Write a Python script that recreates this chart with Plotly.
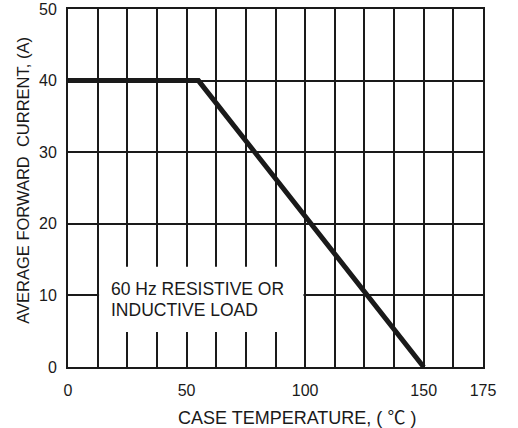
import plotly.graph_objects as go

# Data
temp_c = [0, 55, 150]
current_a = [40, 40, 0]
x_tick_vals = [0, 50, 100, 150, 175]
x_tick_text = ["0", "50", "100", "150", "175"]
y_tick_vals = [0, 10, 20, 30, 40, 50]
note_lines = ["60 Hz RESISTIVE OR", "INDUCTIVE LOAD"]
note_y = [10.95, 8.0]
x_title = "CASE TEMPERATURE, ( <span style='font-family:Noto Sans CJK JP'>℃</span> )"
y_title = "AVERAGE FORWARD  CURRENT, (A)"

FONT = "Arial, Liberation Sans, sans-serif"
TXT = "#1a1a1a"

fig = go.Figure()
fig.add_trace(go.Scatter(x=temp_c, y=current_a, mode="lines",
                         line=dict(color="#1a1a1a", width=5),
                         showlegend=False, hoverinfo="skip"))

# White box behind the note (covers grid lines)
fig.add_shape(type="rect", xref="x", yref="y", x0=13.1, x1=99.3, y0=4.9, y1=14.0,
              fillcolor="white", line=dict(width=0), layer="above")
for line_text, yy in zip(note_lines, note_y):
    fig.add_annotation(x=17.6, y=yy, xref="x", yref="y", xanchor="left", yanchor="middle",
                       text=line_text, showarrow=False, align="left", borderpad=0,
                       font=dict(family=FONT, size=17.5, color=TXT))

# Axis titles (placed as in the reference)
fig.add_annotation(x=0.552, y=-0.137, xref="paper", yref="paper", xanchor="center", yanchor="middle",
                   text=x_title, showarrow=False, font=dict(family=FONT, size=18, color=TXT))
fig.add_annotation(x=-0.107, y=0.522, xref="paper", yref="paper", xanchor="center", yanchor="middle",
                   text=y_title, showarrow=False, textangle=-90, font=dict(family=FONT, size=16.5, color=TXT))

fig.update_xaxes(range=[0, 175], tickmode="array", tickvals=x_tick_vals, ticktext=x_tick_text,
                 showgrid=False, zeroline=False, showline=True, linecolor="#1a1a1a", linewidth=2,
                 mirror=True, ticks="", ticklabelstandoff=8, automargin=False,
                 minor=dict(dtick=12.5, tick0=0, showgrid=True, gridcolor="#1a1a1a", gridwidth=2, ticks=""),
                 tickfont=dict(family=FONT, size=16, color=TXT))
fig.update_yaxes(range=[0, 50], tickmode="array", tickvals=y_tick_vals,
                 showgrid=True, gridcolor="#1a1a1a", gridwidth=2, zeroline=False,
                 showline=True, linecolor="#1a1a1a", linewidth=2, mirror=True, ticks="",
                 ticklabelstandoff=6, automargin=False,
                 tickfont=dict(family=FONT, size=16, color=TXT))

fig.update_layout(width=518, height=428, margin=dict(l=68, r=35, t=9, b=61),
                  plot_bgcolor="white", paper_bgcolor="white")

fig.write_html("out.html", config={"displayModeBar": False},
               post_script="document.body.style.margin='0';")
